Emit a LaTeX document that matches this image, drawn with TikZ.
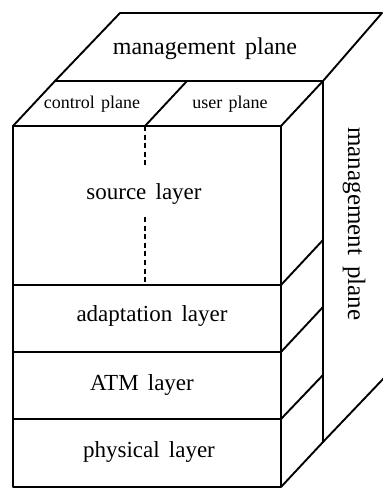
\documentclass[tikz,border=0pt]{standalone}
\usepackage{fontspec}
\setmainfont{Liberation Serif}
\begin{document}
\begin{tikzpicture}[x=0.5pt,y=-0.5pt,line width=0.95pt,line join=round,
  widespace/.style={execute at begin node={\spaceskip=#1\relax}},
  biglabel/.style={font=\fontsize{12}{14}\selectfont,widespace=0.4em},
  sidelabel/.style={font=\fontsize{12.5}{14}\selectfont,widespace=0.45em},
  layerlabel/.style={font=\fontsize{11.5}{13}\selectfont,widespace=0.4em},
  planelabel/.style={font=\fontsize{9}{11}\selectfont,widespace=0.35em}]
\useasboundingbox (0,0) rectangle (383,489);

% Front face
\draw (13,126) rectangle (281,487);
\draw (13,285) -- (281,285);
\draw (13,352) -- (281,352);
\draw (13,419) -- (281,419);

% Control and user planes on top
\draw (13,126) -- (55,81) -- (323,81) -- (281,126);
\draw (145,126) -- (187,81);
\draw[dashed,line width=0.7pt,dash pattern=on 2.5pt off 1.8pt] (145,126) -- (145,166);
\draw[dashed,line width=0.7pt,dash pattern=on 2.5pt off 1.8pt] (145,217) -- (145,285);

% Side faces
\draw (323,81) -- (323,442) -- (281,487);
\draw (281,285) -- (323,240);
\draw (281,352) -- (323,307);
\draw (281,419) -- (323,375);

% Management plane
\draw (55,81) -- (120,13) -- (382,13) -- (323,81);
\draw (323,442) -- (384,378);

% Labels
\node[biglabel] (mtop) at (205,49) {management plane};
\node[planelabel] (cpl) at (92,104) {control plane};
\node[planelabel] (upl) at (230,104) {user plane};
\node[layerlabel] (src) at (144,194) {source layer};
\node[layerlabel] (adl) at (152,316) {adaptation layer};
\node[layerlabel] (atm) at (142,385) {ATM layer};
\node[layerlabel] (phy) at (149,452) {physical layer};
\node[sidelabel,rotate=-90] (mside) at (354,224) {management plane};
\end{tikzpicture}
\end{document}
